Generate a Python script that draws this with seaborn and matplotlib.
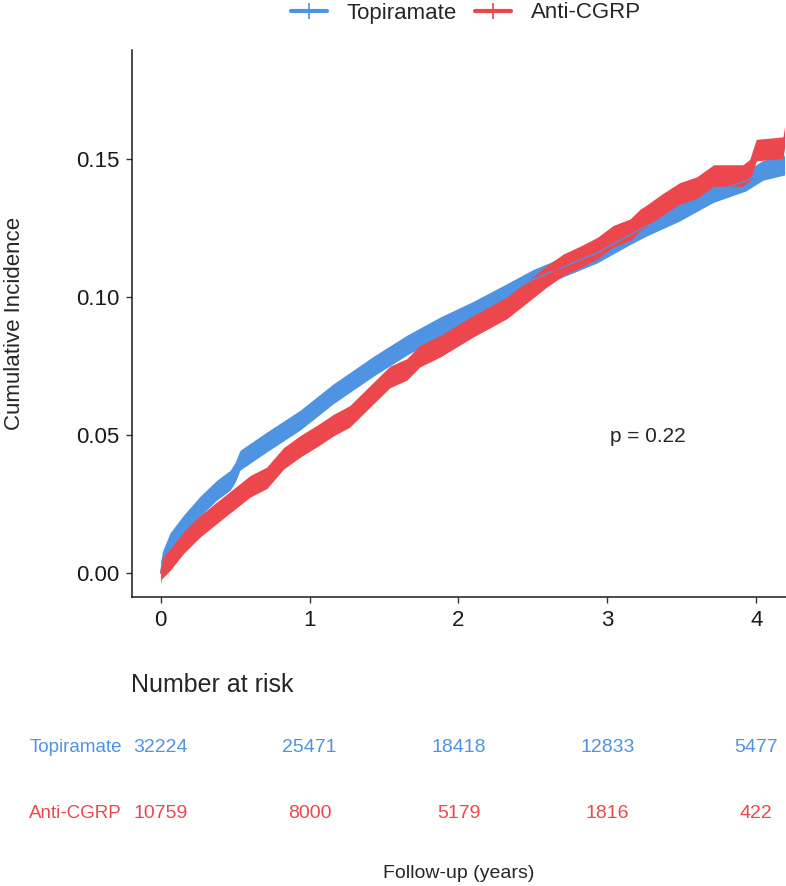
import numpy as np
import pandas as pd
import seaborn as sns
import matplotlib.pyplot as plt
from matplotlib.lines import Line2D
from matplotlib.transforms import blended_transform_factory

# cumulative incidence
topi_t = [0.00, 0.01, 0.062, 0.152, 0.264, 0.376, 0.466, 0.50, 0.533, 0.712, 0.936,
          1.16, 1.43, 1.653, 1.877, 2.10, 2.325, 2.50, 2.706, 2.93, 3.154, 3.261,
          3.485, 3.71, 3.93, 4.046, 4.19]
topi_ci = [0.000, 0.004, 0.0109, 0.0173, 0.0242, 0.0300, 0.0336, 0.0365, 0.0409, 0.0475, 0.0554,
           0.0650, 0.0750, 0.0826, 0.0892, 0.0949, 0.1013, 0.1064, 0.1110, 0.1160, 0.1227, 0.1257,
           0.1312, 0.1379, 0.1421, 0.1460, 0.1479]

cgrp_t = [0.00, 0.007, 0.062, 0.152, 0.264, 0.376, 0.488, 0.60, 0.712, 0.824, 0.936,
          1.048, 1.16, 1.27, 1.43, 1.54, 1.653, 1.74, 1.877, 2.10, 2.325, 2.482,
          2.594, 2.706, 2.818, 2.93, 3.04, 3.154, 3.22, 3.261, 3.37, 3.485, 3.60,
          3.714, 3.91, 3.956, 4.00, 4.18, 4.19]
cgrp_ci = [0.000, 0.0018, 0.0048, 0.0109, 0.0169, 0.0218, 0.0266, 0.0314, 0.0345, 0.0415, 0.0459,
           0.0496, 0.0536, 0.0568, 0.0653, 0.0711, 0.0738, 0.0786, 0.0822, 0.0895, 0.0961, 0.1028,
           0.1076, 0.1118, 0.1146, 0.1177, 0.1221, 0.1245, 0.1280, 0.1294, 0.1336, 0.1376, 0.1397,
           0.1441, 0.1441, 0.1460, 0.1533, 0.1542, 0.1580]

groups = ["Topiramate", "Anti-CGRP"]
risk_times = [0, 1, 2, 3, 4]
risk_topi = [32224, 25471, 18418, 12833, 5477]
risk_cgrp = [10759, 8000, 5179, 1816, 422]

colors = {"Topiramate": "#4F93E3", "Anti-CGRP": "#EC474D"}
# half height of the band made by the dense censoring marks
band = {"Topiramate": 0.0036, "Anti-CGRP": 0.0039}

df = pd.concat([
    pd.DataFrame({"time": topi_t, "ci": topi_ci, "group": "Topiramate"}),
    pd.DataFrame({"time": cgrp_t, "ci": cgrp_ci, "group": "Anti-CGRP"}),
])

sns.set_theme(style="ticks")
plt.rcParams["font.family"] = ["Liberation Sans", "DejaVu Sans"]

W, H = 786, 886
fig = plt.figure(figsize=(W / 100, H / 100), dpi=100)
ax = fig.add_axes([132 / W, 1 - 597 / H, (W - 132) / W, (597 - 50) / H])

for g in groups:
    d = df[df.group == g]
    sns.lineplot(data=d, x="time", y="ci", color=colors[g], lw=1, ax=ax,
                 estimator=None, sort=False, legend=False)
    ax.fill_between(d.time, d.ci - band[g], d.ci + band[g], color=colors[g], lw=0)

ax.set_xlim(-0.193, 4.2)
ax.set_ylim(-0.0087, 0.1896)
ax.set_xticks([0, 1, 2, 3, 4])
ax.set_yticks([0.00, 0.05, 0.10, 0.15])
ax.set_yticklabels(["0.00", "0.05", "0.10", "0.15"])
ax.tick_params(labelsize=16, length=4, width=1, color="#333333", labelcolor="#1a1a1a", pad=5)
ax.set_xlabel("")
ax.set_ylabel("Cumulative Incidence", fontsize=16)
ax.yaxis.set_label_coords((25 - 132) / (W - 132), 0.5)
for s in ["top", "right"]:
    ax.spines[s].set_visible(False)
for s in ["left", "bottom"]:
    ax.spines[s].set_color("#1a1a1a")
    ax.spines[s].set_linewidth(1.1)

ax.text(3.27, 0.0495, "p = 0.22", fontsize=15, ha="center", va="center")

handles = [Line2D([], [], color=colors[g], lw=3, marker="|", ms=11, mew=1.2) for g in groups]
fig.legend(handles, groups, loc="center", bbox_to_anchor=(466 / W, 1 - 13 / H), ncol=2,
           frameon=False, fontsize=16, handlelength=1.6, handletextpad=0.9,
           columnspacing=0.8)

# risk table
tr = blended_transform_factory(ax.transData, fig.transFigure)
fig.text(131 / W, 1 - 685 / H, "Number at risk", fontsize=18, ha="left", va="center")
rows = [("Topiramate", risk_topi, 747), ("Anti-CGRP", risk_cgrp, 813)]
for name, vals, ypix in rows:
    fig.text(122 / W, 1 - ypix / H, name, fontsize=13.5, ha="right", va="center",
             color=colors[name])
    for t, n in zip(risk_times, vals):
        ax.text(t, 1 - ypix / H, str(n), transform=tr, fontsize=14, ha="center",
                va="center", color=colors[name])

fig.text(459 / W, 1 - 873 / H, "Follow-up (years)", fontsize=14, ha="center", va="center")

fig.savefig("out.png", dpi=100)
